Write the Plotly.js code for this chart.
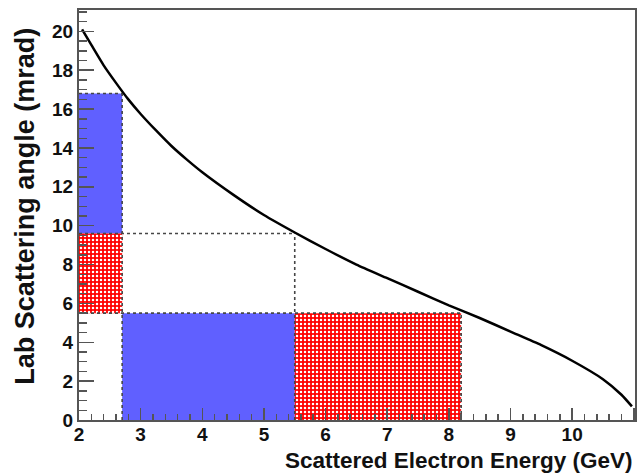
<!DOCTYPE html>
<html>
<head>
<meta charset="utf-8">
<script src="https://cdn.plot.ly/plotly-3.0.1.min.js"></script>
<style>html,body{margin:0;padding:0;background:#fff;}#chart{width:638px;height:473px;}</style>
</head>
<body>
<div id="chart"></div>
<script>
// Kinematic curve
const energy = [2.05, 2.2, 2.4, 2.6, 2.8, 3.0, 3.25, 3.5, 3.75, 4.0, 4.5, 5.0, 5.5, 6.0, 6.5, 7.0, 7.5, 8.0, 8.5, 9.0, 9.5, 10.0, 10.5, 10.8, 10.97];
const angle  = [20.1, 19.3, 18.25, 17.35, 16.5, 15.75, 14.9, 14.1, 13.4, 12.75, 11.6, 10.55, 9.65, 8.8, 8.0, 7.3, 6.6, 5.9, 5.25, 4.55, 3.85, 3.05, 2.1, 1.3, 0.7];

// Region boundaries
const energyCuts = [2, 2.7, 5.5, 8.2];
const angleCuts  = [5.5, 9.6, 16.8];

const blue = 'rgb(96,96,255)';
const red = 'rgb(255,0,0)';
const dashCol = 'rgb(70,70,70)';

function rect(x0, x1, y0, y1) {
  return {x: [x0, x1, x1, x0, x0], y: [y0, y0, y1, y1, y0]};
}

const traces = [];
// Blue regions
const b1 = rect(energyCuts[0], energyCuts[1], angleCuts[1], angleCuts[2]);
const b2 = rect(energyCuts[1], energyCuts[2], 0, angleCuts[0]);
[b1, b2].forEach(r => traces.push({
  x: r.x, y: r.y, type: 'scatter', mode: 'lines', fill: 'toself',
  fillcolor: blue, line: {width: 0, color: blue}, hoverinfo: 'skip', showlegend: false
}));
// Red dotted regions
const r1 = rect(energyCuts[0], energyCuts[1], angleCuts[0], angleCuts[1]);
const r2 = rect(energyCuts[2], energyCuts[3], 0, angleCuts[0]);
[r1, r2].forEach(r => traces.push({
  x: r.x, y: r.y, type: 'scatter', mode: 'lines', fill: 'toself',
  fillcolor: red,
  fillpattern: {shape: '.', bgcolor: red, fgcolor: 'white', size: 4, solidity: 0.3},
  line: {width: 0, color: red}, hoverinfo: 'skip', showlegend: false
}));
// Dashed boundary lines
const dashSegs = [
  [[energyCuts[0], energyCuts[1]], [angleCuts[2], angleCuts[2]]],
  [[energyCuts[1], energyCuts[1]], [0, angleCuts[2]]],
  [[energyCuts[0], energyCuts[2]], [angleCuts[1], angleCuts[1]]],
  [[energyCuts[2], energyCuts[2]], [0, angleCuts[1]]],
  [[energyCuts[0], energyCuts[3]], [angleCuts[0], angleCuts[0]]],
  [[energyCuts[3], energyCuts[3]], [0, angleCuts[0]]]
];
dashSegs.forEach(s => traces.push({
  x: s[0], y: s[1], type: 'scatter', mode: 'lines',
  line: {color: dashCol, width: 1.6, dash: '3px,3px'}, hoverinfo: 'skip', showlegend: false
}));
// Curve
traces.push({
  x: energy, y: angle, type: 'scatter', mode: 'lines',
  line: {color: 'black', width: 2.5, shape: 'spline', smoothing: 0.6}, showlegend: false
});

const fam = 'Liberation Sans, Arial, sans-serif';
const tickFont = {family: fam, size: 19, color: '#111', weight: 'bold'};
const layout = {
  width: 638, height: 473,
  margin: {l: 79, r: 3, t: 10, b: 53, pad: 0},
  paper_bgcolor: 'white', plot_bgcolor: 'white',
  showlegend: false,
  xaxis: {
    range: [2, 11.02], tickmode: 'linear', tick0: 2, dtick: 1,
    ticks: 'inside', ticklen: 12, tickwidth: 1.5, tickcolor: '#555',
    minor: {dtick: 0.2, ticks: 'inside', ticklen: 6, tickwidth: 1.5, tickcolor: '#555', showgrid: false},
    showline: true, linecolor: '#555', linewidth: 2, mirror: true,
    showgrid: false, zeroline: false, tickfont: tickFont, ticklabelstandoff: -4
  },
  yaxis: {
    range: [0, 21.1], tickmode: 'linear', tick0: 0, dtick: 2,
    ticks: 'inside', ticklen: 15, tickwidth: 1.5, tickcolor: '#555',
    minor: {dtick: 0.5, ticks: 'inside', ticklen: 8, tickwidth: 1.5, tickcolor: '#555', showgrid: false},
    showline: true, linecolor: '#555', linewidth: 2, mirror: true,
    showgrid: false, zeroline: false, tickfont: tickFont, ticklabelstandoff: 0
  },
  annotations: [
    {text: 'Scattered Electron Energy (GeV)', xref: 'paper', yref: 'paper', x: 1, y: 0,
     xanchor: 'right', yanchor: 'top', yshift: -26, showarrow: false,
     font: {family: fam, size: 22.5, color: '#111', weight: 'bold'}},
    {text: 'Lab Scattering angle (mrad)', xref: 'paper', yref: 'paper', x: 0, y: 0.52,
     xanchor: 'center', yanchor: 'middle', xshift: -54, textangle: -90, showarrow: false,
     font: {family: fam, size: 27, color: '#111', weight: 'bold'}}
  ]
};
Plotly.newPlot('chart', traces, layout, {displayModeBar: false, staticPlot: true});
</script>
</body>
</html>
